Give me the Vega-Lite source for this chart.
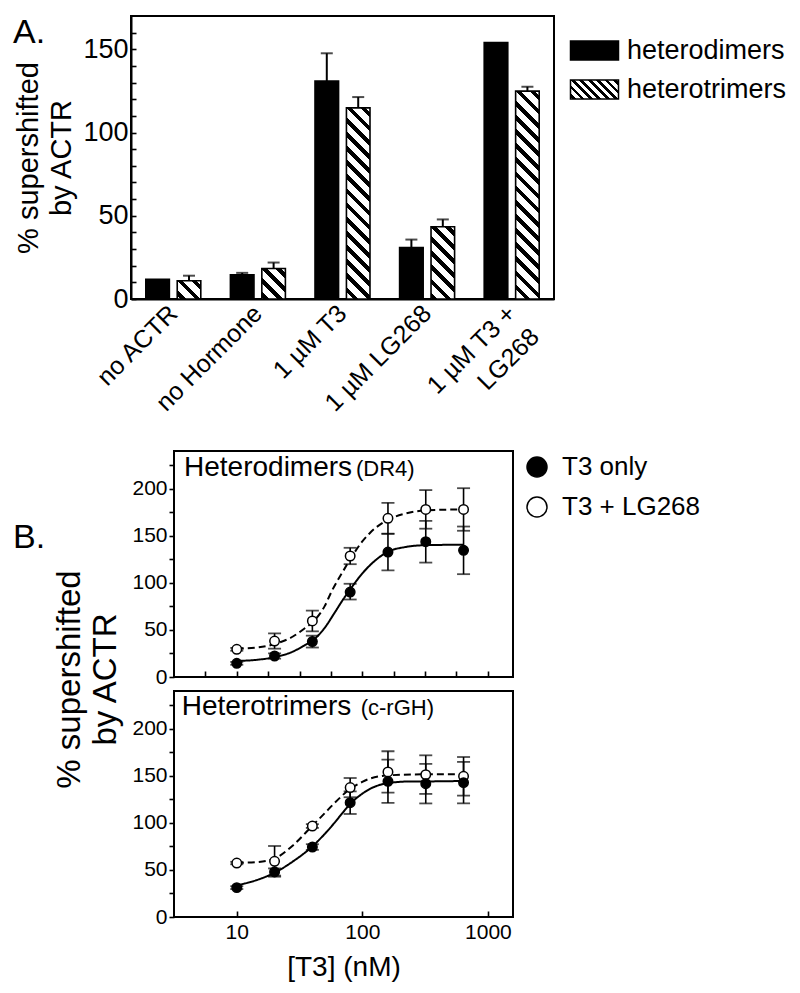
{
 "$schema": "https://vega.github.io/schema/vega-lite/v6.json",
 "background": "white",
 "padding": {"left": 12, "top": 15, "right": 5, "bottom": 5},
 "config": {
  "font": "Liberation Sans",
  "view": {"stroke": "black", "strokeWidth": 2},
  "axis": {"domainColor": "black", "domainWidth": 2, "tickColor": "black", "tickWidth": 1.6, "labelColor": "black", "titleColor": "black", "grid": false, "labelFont": "Liberation Sans", "titleFont": "Liberation Sans", "titleFontWeight": "normal", "labelOverlap": false},
  "legend": {"labelFont": "Liberation Sans", "labelColor": "black"},
  "title": {"font": "Liberation Sans", "fontWeight": "normal", "color": "black"}
 },
 "datasets": {
  "bars": [
   {"cond": "no ACTR", "series": "heterodimers", "value": 11.8, "hi": 11.8},
   {"cond": "no ACTR", "series": "heterotrimers", "value": 11.0, "hi": 14.0},
   {"cond": "no Hormone", "series": "heterodimers", "value": 14.5, "hi": 15.7},
   {"cond": "no Hormone", "series": "heterotrimers", "value": 18.3, "hi": 21.9},
   {"cond": "1 µM T3", "series": "heterodimers", "value": 130.9, "hi": 147.6},
   {"cond": "1 µM T3", "series": "heterotrimers", "value": 114.8, "hi": 121.3},
   {"cond": "1 µM LG268", "series": "heterodimers", "value": 30.9, "hi": 35.7},
   {"cond": "1 µM LG268", "series": "heterotrimers", "value": 43.4, "hi": 47.8},
   {"cond": "1 µM T3 + LG268", "series": "heterodimers", "value": 154.0, "hi": 154.0},
   {"cond": "1 µM T3 + LG268", "series": "heterotrimers", "value": 124.9, "hi": 127.5}
  ],
  "pts": [
   {"panel": "DR4", "treatment": "T3 + LG268", "t3": 10, "y": 29.4, "lo": 27.9, "hi": 30.9},
   {"panel": "DR4", "treatment": "T3 + LG268", "t3": 20, "y": 38.2, "lo": 30.1, "hi": 46.3},
   {"panel": "DR4", "treatment": "T3 + LG268", "t3": 40, "y": 59.5, "lo": 48.5, "hi": 70.5},
   {"panel": "DR4", "treatment": "T3 + LG268", "t3": 80, "y": 128.5, "lo": 119.8, "hi": 137.2},
   {"panel": "DR4", "treatment": "T3 + LG268", "t3": 160, "y": 168.5, "lo": 152.0, "hi": 185.0},
   {"panel": "DR4", "treatment": "T3 + LG268", "t3": 320, "y": 178.0, "lo": 157.5, "hi": 198.5},
   {"panel": "DR4", "treatment": "T3 + LG268", "t3": 640, "y": 178.0, "lo": 155.3, "hi": 200.5},
   {"panel": "DR4", "treatment": "T3 only", "t3": 10, "y": 14.5, "lo": 13.0, "hi": 16.0},
   {"panel": "DR4", "treatment": "T3 only", "t3": 20, "y": 22.3, "lo": 19.5, "hi": 25.1},
   {"panel": "DR4", "treatment": "T3 only", "t3": 40, "y": 37.6, "lo": 31.3, "hi": 43.9},
   {"panel": "DR4", "treatment": "T3 only", "t3": 80, "y": 90.2, "lo": 82.3, "hi": 99.0},
   {"panel": "DR4", "treatment": "T3 only", "t3": 160, "y": 132.7, "lo": 113.3, "hi": 152.3},
   {"panel": "DR4", "treatment": "T3 only", "t3": 320, "y": 143.7, "lo": 121.5, "hi": 165.8},
   {"panel": "DR4", "treatment": "T3 only", "t3": 640, "y": 134.5, "lo": 109.2, "hi": 159.8},
   {"panel": "c-rGH", "treatment": "T3 + LG268", "t3": 10, "y": 57.3, "lo": 56.0, "hi": 58.6},
   {"panel": "c-rGH", "treatment": "T3 + LG268", "t3": 20, "y": 59.1, "lo": 42.8, "hi": 75.4},
   {"panel": "c-rGH", "treatment": "T3 + LG268", "t3": 40, "y": 96.6, "lo": 94.6, "hi": 98.6},
   {"panel": "c-rGH", "treatment": "T3 + LG268", "t3": 80, "y": 137.4, "lo": 127.2, "hi": 147.6},
   {"panel": "c-rGH", "treatment": "T3 + LG268", "t3": 160, "y": 154.0, "lo": 132.0, "hi": 176.0},
   {"panel": "c-rGH", "treatment": "T3 + LG268", "t3": 320, "y": 151.2, "lo": 130.7, "hi": 171.7},
   {"panel": "c-rGH", "treatment": "T3 + LG268", "t3": 640, "y": 149.4, "lo": 128.9, "hi": 169.9},
   {"panel": "c-rGH", "treatment": "T3 only", "t3": 10, "y": 31.2, "lo": 29.7, "hi": 32.7},
   {"panel": "c-rGH", "treatment": "T3 only", "t3": 20, "y": 47.8, "lo": 44.0, "hi": 51.6},
   {"panel": "c-rGH", "treatment": "T3 only", "t3": 40, "y": 74.3, "lo": 71.3, "hi": 77.3},
   {"panel": "c-rGH", "treatment": "T3 only", "t3": 80, "y": 121.4, "lo": 109.4, "hi": 133.4},
   {"panel": "c-rGH", "treatment": "T3 only", "t3": 160, "y": 144.1, "lo": 121.1, "hi": 167.1},
   {"panel": "c-rGH", "treatment": "T3 only", "t3": 320, "y": 141.6, "lo": 120.6, "hi": 162.6},
   {"panel": "c-rGH", "treatment": "T3 only", "t3": 640, "y": 142.7, "lo": 120.7, "hi": 164.7}
  ],
  "fit": [
   {"panel": "DR4", "treatment": "T3 only", "t3": 10, "y": 17},
   {"panel": "DR4", "treatment": "T3 only", "t3": 15, "y": 18.5},
   {"panel": "DR4", "treatment": "T3 only", "t3": 20, "y": 21},
   {"panel": "DR4", "treatment": "T3 only", "t3": 28, "y": 27},
   {"panel": "DR4", "treatment": "T3 only", "t3": 35, "y": 34},
   {"panel": "DR4", "treatment": "T3 only", "t3": 40, "y": 38.5},
   {"panel": "DR4", "treatment": "T3 only", "t3": 50, "y": 52},
   {"panel": "DR4", "treatment": "T3 only", "t3": 60, "y": 68},
   {"panel": "DR4", "treatment": "T3 only", "t3": 70, "y": 82},
   {"panel": "DR4", "treatment": "T3 only", "t3": 80, "y": 93},
   {"panel": "DR4", "treatment": "T3 only", "t3": 100, "y": 110},
   {"panel": "DR4", "treatment": "T3 only", "t3": 120, "y": 121},
   {"panel": "DR4", "treatment": "T3 only", "t3": 160, "y": 133},
   {"panel": "DR4", "treatment": "T3 only", "t3": 220, "y": 138},
   {"panel": "DR4", "treatment": "T3 only", "t3": 320, "y": 140},
   {"panel": "DR4", "treatment": "T3 only", "t3": 640, "y": 140.5},
   {"panel": "DR4", "treatment": "T3 + LG268", "t3": 10, "y": 30},
   {"panel": "DR4", "treatment": "T3 + LG268", "t3": 15, "y": 31.5},
   {"panel": "DR4", "treatment": "T3 + LG268", "t3": 20, "y": 35},
   {"panel": "DR4", "treatment": "T3 + LG268", "t3": 28, "y": 43},
   {"panel": "DR4", "treatment": "T3 + LG268", "t3": 35, "y": 52},
   {"panel": "DR4", "treatment": "T3 + LG268", "t3": 40, "y": 58},
   {"panel": "DR4", "treatment": "T3 + LG268", "t3": 50, "y": 75},
   {"panel": "DR4", "treatment": "T3 + LG268", "t3": 57, "y": 91},
   {"panel": "DR4", "treatment": "T3 + LG268", "t3": 70, "y": 112},
   {"panel": "DR4", "treatment": "T3 + LG268", "t3": 80, "y": 125},
   {"panel": "DR4", "treatment": "T3 + LG268", "t3": 100, "y": 144},
   {"panel": "DR4", "treatment": "T3 + LG268", "t3": 115, "y": 153},
   {"panel": "DR4", "treatment": "T3 + LG268", "t3": 160, "y": 167},
   {"panel": "DR4", "treatment": "T3 + LG268", "t3": 220, "y": 173.5},
   {"panel": "DR4", "treatment": "T3 + LG268", "t3": 320, "y": 177},
   {"panel": "DR4", "treatment": "T3 + LG268", "t3": 640, "y": 178},
   {"panel": "c-rGH", "treatment": "T3 only", "t3": 10, "y": 33.5},
   {"panel": "c-rGH", "treatment": "T3 only", "t3": 15, "y": 40},
   {"panel": "c-rGH", "treatment": "T3 only", "t3": 20, "y": 47},
   {"panel": "c-rGH", "treatment": "T3 only", "t3": 28, "y": 59},
   {"panel": "c-rGH", "treatment": "T3 only", "t3": 40, "y": 75},
   {"panel": "c-rGH", "treatment": "T3 only", "t3": 50, "y": 88},
   {"panel": "c-rGH", "treatment": "T3 only", "t3": 60, "y": 100},
   {"panel": "c-rGH", "treatment": "T3 only", "t3": 70, "y": 111},
   {"panel": "c-rGH", "treatment": "T3 only", "t3": 80, "y": 120},
   {"panel": "c-rGH", "treatment": "T3 only", "t3": 100, "y": 131},
   {"panel": "c-rGH", "treatment": "T3 only", "t3": 115, "y": 136},
   {"panel": "c-rGH", "treatment": "T3 only", "t3": 165, "y": 142.5},
   {"panel": "c-rGH", "treatment": "T3 only", "t3": 250, "y": 144},
   {"panel": "c-rGH", "treatment": "T3 only", "t3": 330, "y": 144},
   {"panel": "c-rGH", "treatment": "T3 only", "t3": 640, "y": 144.5},
   {"panel": "c-rGH", "treatment": "T3 + LG268", "t3": 10, "y": 57.5},
   {"panel": "c-rGH", "treatment": "T3 + LG268", "t3": 15, "y": 58.5},
   {"panel": "c-rGH", "treatment": "T3 + LG268", "t3": 20, "y": 62},
   {"panel": "c-rGH", "treatment": "T3 + LG268", "t3": 28, "y": 76},
   {"panel": "c-rGH", "treatment": "T3 + LG268", "t3": 40, "y": 97},
   {"panel": "c-rGH", "treatment": "T3 + LG268", "t3": 50, "y": 110},
   {"panel": "c-rGH", "treatment": "T3 + LG268", "t3": 60, "y": 121},
   {"panel": "c-rGH", "treatment": "T3 + LG268", "t3": 80, "y": 136},
   {"panel": "c-rGH", "treatment": "T3 + LG268", "t3": 100, "y": 143.5},
   {"panel": "c-rGH", "treatment": "T3 + LG268", "t3": 115, "y": 147},
   {"panel": "c-rGH", "treatment": "T3 + LG268", "t3": 165, "y": 150.5},
   {"panel": "c-rGH", "treatment": "T3 + LG268", "t3": 330, "y": 151.5},
   {"panel": "c-rGH", "treatment": "T3 + LG268", "t3": 640, "y": 151.5}
  ]
 },
 "spacing": 27,
 "resolve": {"scale": {"x": "independent", "y": "independent", "fill": "independent", "shape": "independent"}, "legend": {"fill": "independent", "shape": "independent"}},
 "vconcat": [
  {
   "width": 423,
   "height": 283,
   "title": {"text": "A.", "anchor": "start", "frame": "group", "orient": "top", "dx": -118, "offset": -61, "fontSize": 34, "baseline": "alphabetic"},
   "data": {"name": "bars"},
   "resolve": {"scale": {"shape": "independent"}, "legend": {"shape": "independent"}},
   "layer": [
    {
     "mark": {"type": "bar", "stroke": "black", "strokeWidth": 1.6},
     "encoding": {
      "x": {"field": "cond", "type": "nominal", "sort": ["no ACTR", "no Hormone", "1 µM T3", "1 µM LG268", "1 µM T3 + LG268"], "scale": {"paddingInner": 0.35, "paddingOuter": 0.175}, "axis": {"title": null, "labelAngle": -45, "labelAlign": "right", "labelBaseline": "middle", "labelFontSize": 25, "ticks": false, "labelPadding": 10, "labelLineHeight": 33, "labelExpr": "datum.label == '1 µM T3 + LG268' ? ['1 µM T3 +', 'LG268\u00a0\u00a0\u00a0\u00a0\u00a0'] : datum.label"}},
      "xOffset": {"field": "series", "type": "nominal", "sort": ["heterodimers", "heterotrimers"], "scale": {"paddingInner": 0.25, "paddingOuter": 0}},
      "y": {"field": "value", "type": "quantitative", "scale": {"domain": [0, 170], "nice": false}, "axis": {"title": ["% supershifted", "by ACTR"], "titleFontSize": 29, "titleLineHeight": 33, "titlePadding": 6, "values": [0, 10, 20, 30, 40, 50, 60, 70, 80, 90, 100, 110, 120, 130, 140, 150, 160], "tickCount": 100, "labelExpr": "datum.value % 50 == 0 ? datum.label : ''", "labelOverlap": false, "labelFontSize": 27, "tickSize": -5, "labelPadding": 8}},
      "fill": {
       "condition": [
        {"test": "datum.series == 'heterotrimers' && datum.cond == 'no ACTR'", "value": {"gradient": "linear", "x1": 1, "y1": 0, "x2": -0.1081, "y2": 0.8608, "stops": [
         {"offset": 0, "color": "#fff"},
         {"offset": 0.1013, "color": "#fff"}, {"offset": 0.1013, "color": "#000"}, {"offset": 0.2364, "color": "#000"}, {"offset": 0.2364, "color": "#fff"},
         {"offset": 0.4390, "color": "#fff"}, {"offset": 0.4390, "color": "#000"}, {"offset": 0.5741, "color": "#000"}, {"offset": 0.5741, "color": "#fff"},
         {"offset": 0.7767, "color": "#fff"}, {"offset": 0.7767, "color": "#000"}, {"offset": 0.9117, "color": "#000"}, {"offset": 0.9117, "color": "#fff"},
         {"offset": 1, "color": "#fff"}]}},
        {"test": "datum.series == 'heterotrimers' && datum.cond == 'no Hormone'", "value": {"gradient": "linear", "x1": 1, "y1": 0, "x2": 0.1414, "y2": 1.1095, "stops": [
         {"offset": 0, "color": "#fff"},
         {"offset": 0.0785, "color": "#fff"}, {"offset": 0.0785, "color": "#000"}, {"offset": 0.1832, "color": "#000"}, {"offset": 0.1832, "color": "#fff"},
         {"offset": 0.3403, "color": "#fff"}, {"offset": 0.3403, "color": "#000"}, {"offset": 0.4450, "color": "#000"}, {"offset": 0.4450, "color": "#fff"},
         {"offset": 0.6020, "color": "#fff"}, {"offset": 0.6020, "color": "#000"}, {"offset": 0.7067, "color": "#000"}, {"offset": 0.7067, "color": "#fff"},
         {"offset": 0.8638, "color": "#fff"}, {"offset": 0.8638, "color": "#000"}, {"offset": 0.9685, "color": "#000"}, {"offset": 0.9685, "color": "#fff"},
         {"offset": 1, "color": "#fff"}]}},
        {"test": "datum.series == 'heterotrimers' && datum.cond == '1 µM T3'", "value": {"gradient": "linear", "x1": 1, "y1": 0, "x2": 0.8635, "y2": 1.1065, "stops": [
         {"offset": 0, "color": "#fff"},
         {"offset": 0.0198, "color": "#fff"}, {"offset": 0.0198, "color": "#000"}, {"offset": 0.0461, "color": "#000"}, {"offset": 0.0461, "color": "#fff"},
         {"offset": 0.0856, "color": "#fff"}, {"offset": 0.0856, "color": "#000"}, {"offset": 0.1120, "color": "#000"}, {"offset": 0.1120, "color": "#fff"},
         {"offset": 0.1515, "color": "#fff"}, {"offset": 0.1515, "color": "#000"}, {"offset": 0.1779, "color": "#000"}, {"offset": 0.1779, "color": "#fff"},
         {"offset": 0.2174, "color": "#fff"}, {"offset": 0.2174, "color": "#000"}, {"offset": 0.2437, "color": "#000"}, {"offset": 0.2437, "color": "#fff"},
         {"offset": 0.2833, "color": "#fff"}, {"offset": 0.2833, "color": "#000"}, {"offset": 0.3096, "color": "#000"}, {"offset": 0.3096, "color": "#fff"},
         {"offset": 0.3491, "color": "#fff"}, {"offset": 0.3491, "color": "#000"}, {"offset": 0.3755, "color": "#000"}, {"offset": 0.3755, "color": "#fff"},
         {"offset": 0.4150, "color": "#fff"}, {"offset": 0.4150, "color": "#000"}, {"offset": 0.4414, "color": "#000"}, {"offset": 0.4414, "color": "#fff"},
         {"offset": 0.4809, "color": "#fff"}, {"offset": 0.4809, "color": "#000"}, {"offset": 0.5072, "color": "#000"}, {"offset": 0.5072, "color": "#fff"},
         {"offset": 0.5468, "color": "#fff"}, {"offset": 0.5468, "color": "#000"}, {"offset": 0.5731, "color": "#000"}, {"offset": 0.5731, "color": "#fff"},
         {"offset": 0.6126, "color": "#fff"}, {"offset": 0.6126, "color": "#000"}, {"offset": 0.6390, "color": "#000"}, {"offset": 0.6390, "color": "#fff"},
         {"offset": 0.6785, "color": "#fff"}, {"offset": 0.6785, "color": "#000"}, {"offset": 0.7049, "color": "#000"}, {"offset": 0.7049, "color": "#fff"},
         {"offset": 0.7444, "color": "#fff"}, {"offset": 0.7444, "color": "#000"}, {"offset": 0.7707, "color": "#000"}, {"offset": 0.7707, "color": "#fff"},
         {"offset": 0.8103, "color": "#fff"}, {"offset": 0.8103, "color": "#000"}, {"offset": 0.8366, "color": "#000"}, {"offset": 0.8366, "color": "#fff"},
         {"offset": 0.8761, "color": "#fff"}, {"offset": 0.8761, "color": "#000"}, {"offset": 0.9025, "color": "#000"}, {"offset": 0.9025, "color": "#fff"},
         {"offset": 0.9420, "color": "#fff"}, {"offset": 0.9420, "color": "#000"}, {"offset": 0.9684, "color": "#000"}, {"offset": 0.9684, "color": "#fff"},
         {"offset": 1, "color": "#fff"}]}},
        {"test": "datum.series == 'heterotrimers' && datum.cond == '1 µM LG268'", "value": {"gradient": "linear", "x1": 1, "y1": 0, "x2": 0.6090, "y2": 1.1987, "stops": [
         {"offset": 0, "color": "#fff"},
         {"offset": 0.0443, "color": "#fff"}, {"offset": 0.0443, "color": "#000"}, {"offset": 0.1033, "color": "#000"}, {"offset": 0.1033, "color": "#fff"},
         {"offset": 0.1919, "color": "#fff"}, {"offset": 0.1919, "color": "#000"}, {"offset": 0.2509, "color": "#000"}, {"offset": 0.2509, "color": "#fff"},
         {"offset": 0.3395, "color": "#fff"}, {"offset": 0.3395, "color": "#000"}, {"offset": 0.3985, "color": "#000"}, {"offset": 0.3985, "color": "#fff"},
         {"offset": 0.4871, "color": "#fff"}, {"offset": 0.4871, "color": "#000"}, {"offset": 0.5461, "color": "#000"}, {"offset": 0.5461, "color": "#fff"},
         {"offset": 0.6346, "color": "#fff"}, {"offset": 0.6346, "color": "#000"}, {"offset": 0.6937, "color": "#000"}, {"offset": 0.6937, "color": "#fff"},
         {"offset": 0.7822, "color": "#fff"}, {"offset": 0.7822, "color": "#000"}, {"offset": 0.8413, "color": "#000"}, {"offset": 0.8413, "color": "#fff"},
         {"offset": 0.9298, "color": "#fff"}, {"offset": 0.9298, "color": "#000"}, {"offset": 0.9889, "color": "#000"}, {"offset": 0.9889, "color": "#fff"},
         {"offset": 1, "color": "#fff"}]}},
        {"test": "datum.series == 'heterotrimers' && datum.cond == '1 µM T3 + LG268'", "value": {"gradient": "linear", "x1": 1, "y1": 0, "x2": 0.8754, "y2": 1.0992, "stops": [
         {"offset": 0, "color": "#fff"},
         {"offset": 0.0183, "color": "#fff"}, {"offset": 0.0183, "color": "#000"}, {"offset": 0.0428, "color": "#000"}, {"offset": 0.0428, "color": "#fff"},
         {"offset": 0.0794, "color": "#fff"}, {"offset": 0.0794, "color": "#000"}, {"offset": 0.1039, "color": "#000"}, {"offset": 0.1039, "color": "#fff"},
         {"offset": 0.1405, "color": "#fff"}, {"offset": 0.1405, "color": "#000"}, {"offset": 0.1650, "color": "#000"}, {"offset": 0.1650, "color": "#fff"},
         {"offset": 0.2016, "color": "#fff"}, {"offset": 0.2016, "color": "#000"}, {"offset": 0.2260, "color": "#000"}, {"offset": 0.2260, "color": "#fff"},
         {"offset": 0.2627, "color": "#fff"}, {"offset": 0.2627, "color": "#000"}, {"offset": 0.2871, "color": "#000"}, {"offset": 0.2871, "color": "#fff"},
         {"offset": 0.3238, "color": "#fff"}, {"offset": 0.3238, "color": "#000"}, {"offset": 0.3482, "color": "#000"}, {"offset": 0.3482, "color": "#fff"},
         {"offset": 0.3849, "color": "#fff"}, {"offset": 0.3849, "color": "#000"}, {"offset": 0.4093, "color": "#000"}, {"offset": 0.4093, "color": "#fff"},
         {"offset": 0.4460, "color": "#fff"}, {"offset": 0.4460, "color": "#000"}, {"offset": 0.4704, "color": "#000"}, {"offset": 0.4704, "color": "#fff"},
         {"offset": 0.5071, "color": "#fff"}, {"offset": 0.5071, "color": "#000"}, {"offset": 0.5315, "color": "#000"}, {"offset": 0.5315, "color": "#fff"},
         {"offset": 0.5682, "color": "#fff"}, {"offset": 0.5682, "color": "#000"}, {"offset": 0.5926, "color": "#000"}, {"offset": 0.5926, "color": "#fff"},
         {"offset": 0.6293, "color": "#fff"}, {"offset": 0.6293, "color": "#000"}, {"offset": 0.6537, "color": "#000"}, {"offset": 0.6537, "color": "#fff"},
         {"offset": 0.6903, "color": "#fff"}, {"offset": 0.6903, "color": "#000"}, {"offset": 0.7148, "color": "#000"}, {"offset": 0.7148, "color": "#fff"},
         {"offset": 0.7514, "color": "#fff"}, {"offset": 0.7514, "color": "#000"}, {"offset": 0.7759, "color": "#000"}, {"offset": 0.7759, "color": "#fff"},
         {"offset": 0.8125, "color": "#fff"}, {"offset": 0.8125, "color": "#000"}, {"offset": 0.8370, "color": "#000"}, {"offset": 0.8370, "color": "#fff"},
         {"offset": 0.8736, "color": "#fff"}, {"offset": 0.8736, "color": "#000"}, {"offset": 0.8981, "color": "#000"}, {"offset": 0.8981, "color": "#fff"},
         {"offset": 0.9347, "color": "#fff"}, {"offset": 0.9347, "color": "#000"}, {"offset": 0.9591, "color": "#000"}, {"offset": 0.9591, "color": "#fff"},
         {"offset": 1, "color": "#fff"}]}}
       ],
       "value": "black"
      }
     }
    },
    {
     "transform": [{"filter": "datum.hi > datum.value"}],
     "mark": {"type": "rule", "color": "black", "strokeWidth": 2},
     "encoding": {
      "x": {"field": "cond", "type": "nominal", "sort": ["no ACTR", "no Hormone", "1 µM T3", "1 µM LG268", "1 µM T3 + LG268"]},
      "xOffset": {"field": "series", "type": "nominal", "sort": ["heterodimers", "heterotrimers"]},
      "y": {"field": "value", "type": "quantitative"},
      "y2": {"field": "hi"}
     }
    },
    {
     "transform": [{"filter": "datum.hi > datum.value"}],
     "mark": {"type": "tick", "orient": "horizontal", "size": 12, "thickness": 2, "color": "black"},
     "encoding": {
      "x": {"field": "cond", "type": "nominal", "sort": ["no ACTR", "no Hormone", "1 µM T3", "1 µM LG268", "1 µM T3 + LG268"]},
      "xOffset": {"field": "series", "type": "nominal", "sort": ["heterodimers", "heterotrimers"]},
      "y": {"field": "hi", "type": "quantitative"}
     }
    },
    {
     "transform": [{"filter": "false"}],
     "mark": {"type": "point", "filled": true, "fill": "black", "stroke": "black", "strokeWidth": 1.5, "opacity": 1, "size": 368.64, "shape": "M-2.5,-1H2.5V1H-2.5Z"},
     "encoding": {
      "shape": {"field": "series", "type": "nominal", "scale": {"domain": ["heterodimers"], "range": ["M-2.5,-1H2.5V1H-2.5Z"]}, "legend": {"title": null, "orient": "none", "legendX": 450, "legendY": 21, "symbolSize": 368.64, "symbolStrokeWidth": 1.5, "labelFontSize": 27, "labelOffset": 19}}
     }
    },
    {
     "transform": [{"filter": "false"}],
     "mark": {"type": "point", "filled": true, "stroke": "black", "strokeWidth": 1.5, "opacity": 1, "size": 368.64, "shape": "M-2.5,-1H2.5V1H-2.5Z",
      "fill": {"gradient": "linear", "x1": 1, "y1": 0, "x2": -0.2069, "y2": 0.4828, "stops": [
         {"offset": 0, "color": "#fff"},
         {"offset": 0.0316, "color": "#fff"}, {"offset": 0.0316, "color": "#000"}, {"offset": 0.0842, "color": "#000"}, {"offset": 0.0842, "color": "#fff"},
         {"offset": 0.1578, "color": "#fff"}, {"offset": 0.1578, "color": "#000"}, {"offset": 0.2105, "color": "#000"}, {"offset": 0.2105, "color": "#fff"},
         {"offset": 0.2841, "color": "#fff"}, {"offset": 0.2841, "color": "#000"}, {"offset": 0.3367, "color": "#000"}, {"offset": 0.3367, "color": "#fff"},
         {"offset": 0.4104, "color": "#fff"}, {"offset": 0.4104, "color": "#000"}, {"offset": 0.4630, "color": "#000"}, {"offset": 0.4630, "color": "#fff"},
         {"offset": 0.5367, "color": "#fff"}, {"offset": 0.5367, "color": "#000"}, {"offset": 0.5893, "color": "#000"}, {"offset": 0.5893, "color": "#fff"},
         {"offset": 0.6629, "color": "#fff"}, {"offset": 0.6629, "color": "#000"}, {"offset": 0.7155, "color": "#000"}, {"offset": 0.7155, "color": "#fff"},
         {"offset": 0.7892, "color": "#fff"}, {"offset": 0.7892, "color": "#000"}, {"offset": 0.8418, "color": "#000"}, {"offset": 0.8418, "color": "#fff"},
         {"offset": 0.9155, "color": "#fff"}, {"offset": 0.9155, "color": "#000"}, {"offset": 0.9681, "color": "#000"}, {"offset": 0.9681, "color": "#fff"},
         {"offset": 1, "color": "#fff"}]}},
     "encoding": {
      "shape": {"field": "series", "type": "nominal", "scale": {"domain": ["heterotrimers"], "range": ["M-2.5,-1H2.5V1H-2.5Z"]}, "legend": {"title": null, "orient": "none", "legendX": 450, "legendY": 60, "symbolSize": 368.64, "symbolStrokeWidth": 1.5, "labelFontSize": 27, "labelOffset": 19}}
     }
    }
   ]
  },
  {
   "bounds": "flush",
   "spacing": 14,
   "resolve": {"scale": {"x": "independent", "y": "independent", "fill": "independent"}, "legend": {"fill": "independent"}},
   "vconcat": [
    {
     "width": 382,
     "height": 226,
     "view": {"stroke": null},
     "title": {"text": "B.", "anchor": "start", "frame": "group", "orient": "top", "dx": -118, "offset": -132, "fontSize": 34, "baseline": "alphabetic"},
     "layer": [
      {
       "data": {"name": "pts"},
       "transform": [{"filter": "datum.panel == 'DR4'"}],
       "mark": {"type": "rule", "color": "black", "strokeWidth": 1.6},
       "encoding": {
        "x": {"field": "t3", "type": "quantitative", "scale": {"type": "log", "domain": [3.1623, 1584.9], "range": [43, 382], "nice": false}, "axis": {"title": null, "domain": false, "values": [5.623, 10, 17.78, 31.62, 56.23, 100, 177.8, 316.2, 562.3, 1000], "tickCount": 100, "labels": false, "tickSize": -6}},
        "y": {"field": "lo", "type": "quantitative", "scale": {"domain": [0, 240], "nice": false}, "axis": {"offset": -43, "domain": false, "title": ["% supershifted", "by ACTR"], "titleFontSize": 33, "titleLineHeight": 36, "titlePadding": 9, "titleY": 228, "values": [0, 25, 50, 75, 100, 125, 150, 175, 200, 225], "tickCount": 100, "labelExpr": "datum.value % 50 == 0 && datum.value <= 200 ? datum.label : ''", "labelFontSize": 21, "tickSize": 5, "labelPadding": 2}},
        "y2": {"field": "hi"}
       }
      },
      {
       "data": {"values": [{"frame": 1}]},
       "mark": {"type": "rect", "fill": "transparent", "stroke": "black", "strokeWidth": 2},
       "encoding": {"x": {"datum": 3.1623}, "x2": {"datum": 1584.9}, "y": {"datum": 0}, "y2": {"datum": 240}}
      },
      {
       "data": {"name": "pts"},
       "transform": [{"filter": "datum.panel == 'DR4'"}],
       "mark": {"type": "tick", "orient": "horizontal", "size": 13, "thickness": 1.8, "color": "black"},
       "encoding": {"x": {"field": "t3", "type": "quantitative"}, "y": {"field": "hi", "type": "quantitative"}}
      },
      {
       "data": {"name": "pts"},
       "transform": [{"filter": "datum.panel == 'DR4'"}],
       "mark": {"type": "tick", "orient": "horizontal", "size": 13, "thickness": 1.8, "color": "black"},
       "encoding": {"x": {"field": "t3", "type": "quantitative"}, "y": {"field": "lo", "type": "quantitative"}}
      },
      {
       "data": {"name": "fit"},
       "transform": [{"filter": "datum.panel == 'DR4'"}],
       "mark": {"type": "line", "color": "black", "strokeWidth": 2, "interpolate": "monotone"},
       "encoding": {
        "x": {"field": "t3", "type": "quantitative"},
        "y": {"field": "y", "type": "quantitative"},
        "detail": {"field": "treatment", "type": "nominal"},
        "strokeDash": {"condition": {"test": "datum.treatment == 'T3 + LG268'", "value": [7, 4]}, "value": [1, 0]}
       }
      },
      {
       "data": {"name": "pts"},
       "transform": [{"filter": "datum.panel == 'DR4'"}],
       "mark": {"type": "point", "shape": "circle", "filled": true, "size": 90, "stroke": "black", "strokeWidth": 1.5, "opacity": 1},
       "encoding": {
        "x": {"field": "t3", "type": "quantitative"},
        "y": {"field": "y", "type": "quantitative"},
        "fill": {"field": "treatment", "type": "nominal", "scale": {"domain": ["T3 only", "T3 + LG268"], "range": ["black", "white"]}, "legend": {"title": null, "orient": "right", "offset": 8, "padding": 3, "symbolType": "circle", "symbolSize": 400, "labelFontSize": 26, "labelOffset": 12, "rowPadding": 14,
         "encode": {"symbols": {"update": {"stroke": {"value": "black"}, "strokeWidth": {"value": 1.5}}}}}}
       }
      },
      {
       "data": {"values": [{"t": "Heterodimers"}]},
       "mark": {"type": "text", "align": "left", "baseline": "alphabetic", "fontSize": 28, "color": "black"},
       "encoding": {"x": {"datum": 3.8}, "y": {"datum": 213}, "text": {"field": "t"}}
      },
      {
       "data": {"values": [{"t": "(DR4)"}]},
       "mark": {"type": "text", "align": "left", "baseline": "alphabetic", "fontSize": 22, "color": "black"},
       "encoding": {"x": {"datum": 89}, "y": {"datum": 213}, "text": {"field": "t"}}
      }
     ]
    },
    {
     "width": 382,
     "height": 226,
     "view": {"stroke": null},
     "layer": [
      {
       "data": {"name": "pts"},
       "transform": [{"filter": "datum.panel == 'c-rGH'"}],
       "mark": {"type": "rule", "color": "black", "strokeWidth": 1.6},
       "encoding": {
        "x": {"field": "t3", "type": "quantitative", "scale": {"type": "log", "domain": [3.1623, 1584.9], "range": [43, 382], "nice": false}, "axis": {"domain": false, "title": "[T3] (nM)", "titleFontSize": 28, "titlePadding": 11, "titleX": 212.5, "values": [10, 100, 1000], "format": "d", "labelFontSize": 21, "tickSize": -6, "labelPadding": 10}},
        "y": {"field": "lo", "type": "quantitative", "scale": {"domain": [0, 240], "nice": false}, "axis": {"offset": -43, "domain": false, "title": null, "values": [0, 25, 50, 75, 100, 125, 150, 175, 200, 225], "tickCount": 100, "labelExpr": "datum.value % 50 == 0 && datum.value <= 200 ? datum.label : ''", "labelFontSize": 21, "tickSize": 5, "labelPadding": 2}},
        "y2": {"field": "hi"}
       }
      },
      {
       "data": {"values": [{"frame": 1}]},
       "mark": {"type": "rect", "fill": "transparent", "stroke": "black", "strokeWidth": 2},
       "encoding": {"x": {"datum": 3.1623}, "x2": {"datum": 1584.9}, "y": {"datum": 0}, "y2": {"datum": 240}}
      },
      {
       "data": {"name": "pts"},
       "transform": [{"filter": "datum.panel == 'c-rGH'"}],
       "mark": {"type": "tick", "orient": "horizontal", "size": 13, "thickness": 1.8, "color": "black"},
       "encoding": {"x": {"field": "t3", "type": "quantitative"}, "y": {"field": "hi", "type": "quantitative"}}
      },
      {
       "data": {"name": "pts"},
       "transform": [{"filter": "datum.panel == 'c-rGH'"}],
       "mark": {"type": "tick", "orient": "horizontal", "size": 13, "thickness": 1.8, "color": "black"},
       "encoding": {"x": {"field": "t3", "type": "quantitative"}, "y": {"field": "lo", "type": "quantitative"}}
      },
      {
       "data": {"name": "fit"},
       "transform": [{"filter": "datum.panel == 'c-rGH'"}],
       "mark": {"type": "line", "color": "black", "strokeWidth": 2, "interpolate": "monotone"},
       "encoding": {
        "x": {"field": "t3", "type": "quantitative"},
        "y": {"field": "y", "type": "quantitative"},
        "detail": {"field": "treatment", "type": "nominal"},
        "strokeDash": {"condition": {"test": "datum.treatment == 'T3 + LG268'", "value": [7, 4]}, "value": [1, 0]}
       }
      },
      {
       "data": {"name": "pts"},
       "transform": [{"filter": "datum.panel == 'c-rGH'"}],
       "mark": {"type": "point", "shape": "circle", "filled": true, "size": 90, "stroke": "black", "strokeWidth": 1.5, "opacity": 1},
       "encoding": {
        "x": {"field": "t3", "type": "quantitative"},
        "y": {"field": "y", "type": "quantitative"},
        "fill": {"field": "treatment", "type": "nominal", "scale": {"domain": ["T3 only", "T3 + LG268"], "range": ["black", "white"]}, "legend": null}
       }
      },
      {
       "data": {"values": [{"t": "Heterotrimers"}]},
       "mark": {"type": "text", "align": "left", "baseline": "alphabetic", "fontSize": 28, "color": "black"},
       "encoding": {"x": {"datum": 3.64}, "y": {"datum": 214}, "text": {"field": "t"}}
      },
      {
       "data": {"values": [{"t": "(c-rGH)"}]},
       "mark": {"type": "text", "align": "left", "baseline": "alphabetic", "fontSize": 22, "color": "black"},
       "encoding": {"x": {"datum": 97}, "y": {"datum": 214}, "text": {"field": "t"}}
      }
     ]
    }
   ]
  }
 ]
}
